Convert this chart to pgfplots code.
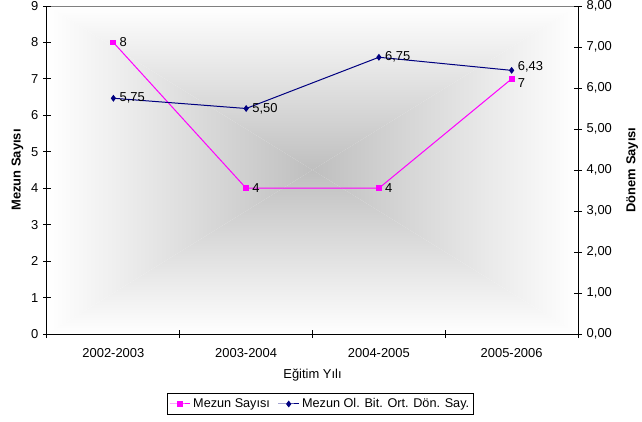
\documentclass[border=0pt]{standalone}
\usepackage{pgfplots}
\pgfplotsset{compat=1.18}
\usepackage{fontspec}
\setmainfont{Liberation Sans}
\definecolor{mag}{HTML}{FF00FF}
\definecolor{nav}{HTML}{000080}
\definecolor{cgray}{HTML}{BFBFBF}
\begin{document}
\begin{tikzpicture}
\useasboundingbox (-35.25pt,-65.25pt) rectangle (446.25pt,250.5pt);
\pgfplotsset{
  every axis/.append style={scale only axis, width=398.25pt, height=246pt,
    xmin=-0.5, xmax=3.5, at={(0,0)}, anchor=south west,
    font=\fontsize{9.7}{11.5}\selectfont,
    /pgf/number format/assume math mode=true,
    axis line style={black, line width=0.75pt},
    tick style={black, line width=0.75pt},
    tick align=center, major tick length=6pt, minor tick length=6pt,
    clip=false, axis on top}}
\begin{axis}[
  axis y line*=left, axis x line*=bottom,
  ymin=0, ymax=9, ytick={0,...,9},
  xtick={0,1,2,3}, xticklabels={2002-2003,2003-2004,2004-2005,2005-2006},
  major x tick style={draw=none},
  minor xtick={-0.5,0.5,1.5,2.5,3.5},
  xticklabel style={yshift=-4pt},
  xlabel={Eğitim Yılı},
  xlabel style={yshift=-2pt},
  ylabel={\bfseries Mezun Sayısı},
  ylabel style={yshift=-1pt},
  legend style={at={(0.515,-0.2134)}, anchor=center, legend columns=2, draw=black, line width=0.75pt,
    font=\fontsize{9.5}{11}\selectfont, inner sep=1.5pt,
    /tikz/every even column/.append style={column sep=4pt}},
  legend image code/.code={\draw[mark repeat=2,mark phase=2] plot coordinates {(0cm,0cm)(0.27cm,0cm)(0.54cm,0cm)};},
]
\shade[top color=white, bottom color=cgray] (rel axis cs:0,1) -- (rel axis cs:1,1) -- (rel axis cs:0.5,0.5) -- cycle;
\shade[top color=cgray, bottom color=white] (rel axis cs:0,0) -- (rel axis cs:1,0) -- (rel axis cs:0.5,0.5) -- cycle;
\shade[left color=white, right color=cgray] (rel axis cs:0,0) -- (rel axis cs:0,1) -- (rel axis cs:0.5,0.5) -- cycle;
\shade[left color=cgray, right color=white] (rel axis cs:1,0) -- (rel axis cs:1,1) -- (rel axis cs:0.5,0.5) -- cycle;
\draw[gray, line width=0.75pt] (rel axis cs:0,1) -- (rel axis cs:1,1);
\addplot[mag, line width=0.75pt, mark=square*, mark size=1.8pt,
  visualization depends on={x \as \myx},
  nodes near coords, every node near coord/.append style={anchor=west, black, font=\fontsize{9.7}{11}\selectfont, xshift=1pt, yshift={-3*(\myx>2.5)}}]
  coordinates {(0,8) (1,4) (2,4) (3,7)};
\addlegendentry{Mezun Sayısı}
\addlegendimage{nav, line width=0.75pt, mark=diamond*, mark size=2pt}
\addlegendentry{Mezun Ol. Bit. Ort. Dön. Say.}
\end{axis}
\begin{axis}[
  axis y line*=right, axis x line=none,
  ymin=0, ymax=8, ytick={0,...,8},
  yticklabel={\pgfmathprintnumber[fixed, fixed zerofill, precision=2, use comma, assume math mode=true]{\tick}},
  ylabel={\bfseries Dönem Sayısı},
  ylabel style={rotate=0, yshift=-4pt},
]
\addplot[nav, line width=0.75pt, mark=diamond*, mark size=2pt,
  point meta=y,
  visualization depends on={x \as \myx},
  nodes near coords={\pgfmathprintnumber[fixed, fixed zerofill, precision=2, use comma, assume math mode=true]{\pgfplotspointmeta}},
  every node near coord/.append style={anchor=west, black, font=\fontsize{9.7}{11}\selectfont, xshift=1pt, yshift={3*(\myx>2.5)}}]
  coordinates {(0,5.75) (1,5.50) (2,6.75) (3,6.43)};
\end{axis}
\end{tikzpicture}
\end{document}
